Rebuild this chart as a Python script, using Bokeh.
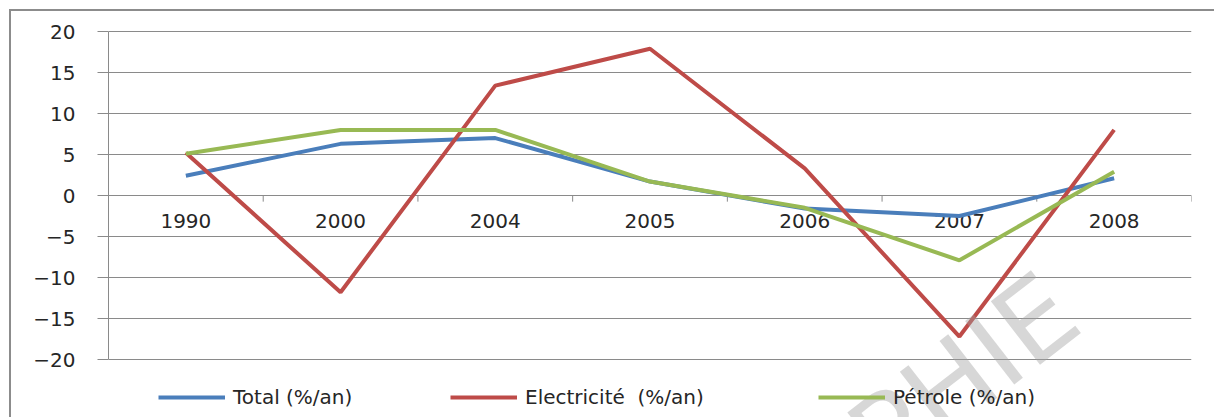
from bokeh.plotting import figure
from bokeh.models import (ColumnDataSource, FixedTicker, Legend, LegendItem,
                          Label, Range1d)
from bokeh.core.properties import value
from bokeh.embed import file_html
from bokeh.resources import INLINE

# Annual growth rates (%/an)
years = ["1990", "2000", "2004", "2005", "2006", "2007", "2008"]
total = [2.4, 6.3, 7.0, 1.7, -1.6, -2.5, 2.1]
electricite = [5.2, -11.8, 13.4, 17.9, 3.3, -17.2, 8.0]
petrole = [5.1, 8.0, 8.0, 1.7, -1.5, -7.9, 2.9]
y_ticks = [-20, -15, -10, -5, 0, 5, 10, 15, 20]

FONT = "DejaVu Sans"
GRID = "#8a8a8a"
TEXT = "#262626"
FS = "20px"

# category centres on a numeric axis: one unit per year slot
xs = [i + 0.5 for i in range(len(years))]
src = ColumnDataSource(dict(x=xs, year=years, total=total,
                            elec=electricite, pet=petrole))

# the plotting frame runs down to the bottom edge so that the legend row
# underneath the value range can be drawn inside it
p = figure(width=1205, height=408, output_backend="svg", toolbar_location=None,
           x_range=Range1d(0, len(years)), y_range=Range1d(-27.317, 20.122),
           min_border_left=97, min_border_right=25,
           min_border_top=19, min_border_bottom=0)
p.styles = {"margin-left": "9px", "margin-top": "9px",
            "border-left": "2px solid #8c8c8c",
            "border-top": "2px solid #8c8c8c"}
p.outline_line_color = None
p.background_fill_color = "white"
p.border_fill_color = "white"

# value axis
p.xaxis.visible = False
p.xgrid.visible = False
yax = p.yaxis[0]
yax.bounds = (-20, 20)
yax.ticker = FixedTicker(ticks=y_ticks)
yax.axis_line_color = GRID
yax.major_tick_line_color = GRID
yax.major_tick_out = 11
yax.major_tick_in = 0
yax.minor_tick_line_color = None
yax.major_label_standoff = 22
yax.major_label_text_font = FONT
yax.major_label_text_font_size = FS
yax.major_label_text_color = TEXT
p.ygrid.grid_line_color = GRID
p.ygrid.grid_line_width = 1

# category separators hanging below the zero line
bounds = list(range(1, len(years) + 1))
p.segment(x0=bounds, y0=[0] * len(bounds), x1=bounds, y1=[-0.75] * len(bounds),
          line_color=GRID, line_width=1)

# category labels just under the zero line
p.text(x="x", y=0, text="year", source=src, text_font=value(FONT),
       text_font_size=FS, text_color=TEXT, text_align="center",
       text_baseline="middle", y_offset=25)

r_total = p.line("x", "total", source=src, line_color="#4A7EBB", line_width=4)
r_elec = p.line("x", "elec", source=src, line_color="#BE4B48", line_width=4)
r_pet = p.line("x", "pet", source=src, line_color="#98B954", line_width=4)

# one legend per series, laid out along the bottom
for label, rend, xpos in [("Total (%/an)", r_total, 50),
                          ("Electricité  (%/an)", r_elec, 342),
                          ("Pétrole (%/an)", r_pet, 710)]:
    lg = Legend(items=[LegendItem(label=label, renderers=[rend])],
                location=(xpos, 10), orientation="horizontal",
                glyph_width=67, glyph_height=20, label_height=20,
                label_standoff=8, padding=0, margin=0, spacing=0,
                border_line_color=None, background_fill_alpha=0,
                label_text_font=FONT, label_text_font_size=FS,
                label_text_color=TEXT)
    p.add_layout(lg, "center")

# watermark
p.add_layout(Label(x=6.17, y=-12.56, text="DPHIE", angle=0.66,
                   text_align="right", text_baseline="middle",
                   text_font=FONT, text_font_size="110px",
                   text_color="#a0a0a0", text_alpha=0.42))

open("out.html", "w").write(file_html(p, INLINE))
